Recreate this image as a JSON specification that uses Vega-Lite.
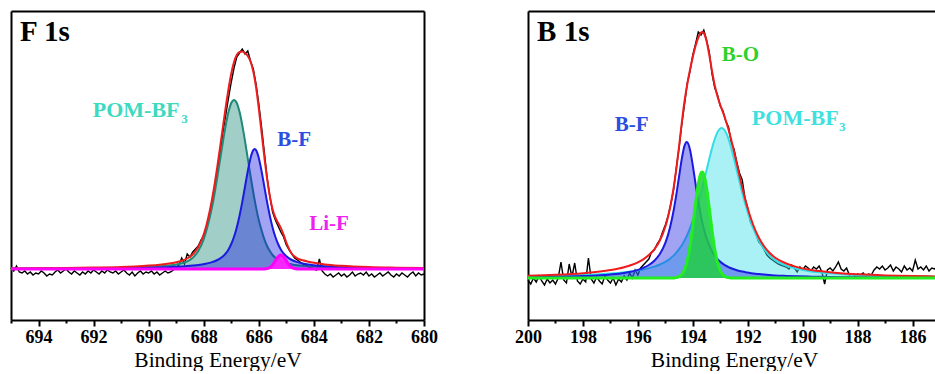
{
"$schema":"https://vega.github.io/schema/vega-lite/v6.json",
"background":"white",
"padding":{"left":5,"top":11,"right":0,"bottom":0},
"bounds":"flush",
"spacing":104,
"config":{"view":{"stroke":null},"axis":{"grid":false,"domainColor":"black","tickColor":"black","labelColor":"black","titleColor":"black","labelFont":"Liberation Serif","titleFont":"Liberation Serif","domainWidth":2,"tickWidth":2}},
"datasets":{
"L":[
{"s":"raw","x":695.0,"y":52},{"s":"raw","x":694.9,"y":49},{"s":"raw","x":694.8,"y":54},{"s":"raw","x":694.7,"y":48},{"s":"raw","x":694.6,"y":47},{"s":"raw","x":694.5,"y":49},{"s":"raw","x":694.4,"y":46},{"s":"raw","x":694.3,"y":48},{"s":"raw","x":694.2,"y":45},{"s":"raw","x":694.1,"y":47},{"s":"raw","x":694.0,"y":46},{"s":"raw","x":693.9,"y":49},{"s":"raw","x":693.8,"y":47},{"s":"raw","x":693.7,"y":44},{"s":"raw","x":693.6,"y":46},{"s":"raw","x":693.5,"y":45},{"s":"raw","x":693.4,"y":48},{"s":"raw","x":693.3,"y":50},{"s":"raw","x":693.2,"y":47},{"s":"raw","x":693.1,"y":49},{"s":"raw","x":693.0,"y":51},{"s":"raw","x":692.9,"y":48},{"s":"raw","x":692.8,"y":46},{"s":"raw","x":692.7,"y":49},{"s":"raw","x":692.6,"y":47},{"s":"raw","x":692.5,"y":45},{"s":"raw","x":692.4,"y":48},{"s":"raw","x":692.3,"y":46},{"s":"raw","x":692.2,"y":49},{"s":"raw","x":692.1,"y":47},{"s":"raw","x":692.0,"y":50},{"s":"raw","x":691.9,"y":48},{"s":"raw","x":691.8,"y":46},{"s":"raw","x":691.7,"y":49},{"s":"raw","x":691.6,"y":47},{"s":"raw","x":691.5,"y":50},{"s":"raw","x":691.4,"y":48},{"s":"raw","x":691.3,"y":47},{"s":"raw","x":691.2,"y":49},{"s":"raw","x":691.1,"y":46},{"s":"raw","x":691.0,"y":48},{"s":"raw","x":690.9,"y":50},{"s":"raw","x":690.8,"y":47},{"s":"raw","x":690.7,"y":45},{"s":"raw","x":690.6,"y":48},{"s":"raw","x":690.5,"y":44},{"s":"raw","x":690.4,"y":47},{"s":"raw","x":690.3,"y":49},{"s":"raw","x":690.2,"y":46},{"s":"raw","x":690.1,"y":48},{"s":"raw","x":690.0,"y":47},{"s":"raw","x":689.9,"y":49},{"s":"raw","x":689.8,"y":46},{"s":"raw","x":689.7,"y":48},{"s":"raw","x":689.6,"y":45},{"s":"raw","x":689.5,"y":47},{"s":"raw","x":689.4,"y":49},{"s":"raw","x":689.3,"y":47},{"s":"raw","x":689.2,"y":48},{"s":"raw","x":689.1,"y":50},{"s":"raw","x":689.0,"y":52},{"s":"raw","x":688.9,"y":55},{"s":"raw","x":688.8,"y":62},{"s":"raw","x":688.7,"y":56},{"s":"raw","x":688.6,"y":66},{"s":"raw","x":688.5,"y":63},{"s":"raw","x":688.4,"y":68},{"s":"raw","x":688.3,"y":71},{"s":"raw","x":688.2,"y":74},{"s":"raw","x":688.1,"y":80},{"s":"raw","x":688.0,"y":84},{"s":"raw","x":687.9,"y":93},{"s":"raw","x":687.8,"y":104},{"s":"raw","x":687.7,"y":118},{"s":"raw","x":687.6,"y":134},{"s":"raw","x":687.5,"y":150},{"s":"raw","x":687.4,"y":168},{"s":"raw","x":687.3,"y":188},{"s":"raw","x":687.2,"y":205},{"s":"raw","x":687.1,"y":222},{"s":"raw","x":687.0,"y":238},{"s":"raw","x":686.9,"y":252},{"s":"raw","x":686.8,"y":263},{"s":"raw","x":686.7,"y":267},{"s":"raw","x":686.6,"y":271},{"s":"raw","x":686.5,"y":266},{"s":"raw","x":686.4,"y":269},{"s":"raw","x":686.3,"y":259},{"s":"raw","x":686.2,"y":251},{"s":"raw","x":686.1,"y":236},{"s":"raw","x":686.0,"y":216},{"s":"raw","x":685.9,"y":193},{"s":"raw","x":685.8,"y":168},{"s":"raw","x":685.7,"y":143},{"s":"raw","x":685.6,"y":124},{"s":"raw","x":685.5,"y":108},{"s":"raw","x":685.4,"y":100},{"s":"raw","x":685.3,"y":94},{"s":"raw","x":685.2,"y":88},{"s":"raw","x":685.1,"y":83},{"s":"raw","x":685.0,"y":75},{"s":"raw","x":684.9,"y":70},{"s":"raw","x":684.8,"y":66},{"s":"raw","x":684.7,"y":62},{"s":"raw","x":684.6,"y":60},{"s":"raw","x":684.5,"y":58},{"s":"raw","x":684.4,"y":56},{"s":"raw","x":684.3,"y":55},{"s":"raw","x":684.2,"y":53},{"s":"raw","x":684.1,"y":52},{"s":"raw","x":684.0,"y":51},{"s":"raw","x":683.9,"y":50},{"s":"raw","x":683.8,"y":61},{"s":"raw","x":683.7,"y":49},{"s":"raw","x":683.6,"y":46},{"s":"raw","x":683.5,"y":44},{"s":"raw","x":683.4,"y":46},{"s":"raw","x":683.3,"y":43},{"s":"raw","x":683.2,"y":45},{"s":"raw","x":683.1,"y":47},{"s":"raw","x":683.0,"y":44},{"s":"raw","x":682.9,"y":46},{"s":"raw","x":682.8,"y":43},{"s":"raw","x":682.7,"y":45},{"s":"raw","x":682.6,"y":48},{"s":"raw","x":682.5,"y":44},{"s":"raw","x":682.4,"y":46},{"s":"raw","x":682.3,"y":47},{"s":"raw","x":682.2,"y":45},{"s":"raw","x":682.1,"y":48},{"s":"raw","x":682.0,"y":44},{"s":"raw","x":681.9,"y":46},{"s":"raw","x":681.8,"y":43},{"s":"raw","x":681.7,"y":45},{"s":"raw","x":681.6,"y":47},{"s":"raw","x":681.5,"y":44},{"s":"raw","x":681.4,"y":46},{"s":"raw","x":681.3,"y":48},{"s":"raw","x":681.2,"y":45},{"s":"raw","x":681.1,"y":43},{"s":"raw","x":681.0,"y":46},{"s":"raw","x":680.9,"y":44},{"s":"raw","x":680.8,"y":47},{"s":"raw","x":680.7,"y":45},{"s":"raw","x":680.6,"y":43},{"s":"raw","x":680.5,"y":46},{"s":"raw","x":680.4,"y":48},{"s":"raw","x":680.3,"y":44},{"s":"raw","x":680.2,"y":47},{"s":"raw","x":680.1,"y":45},{"s":"raw","x":680.0,"y":46},
{"s":"POM","x":695,"y":51.3},{"s":"POM","x":694,"y":51.4},{"s":"POM","x":693,"y":51.6},{"s":"POM","x":692,"y":51.8},{"s":"POM","x":691,"y":52.3},{"s":"POM","x":690.5,"y":52.6},{"s":"POM","x":690,"y":53.2},{"s":"POM","x":689.6,"y":53.8},{"s":"POM","x":689.2,"y":54.8},{"s":"POM","x":689.0,"y":55.6},{"s":"POM","x":688.8,"y":56.7},{"s":"POM","x":688.6,"y":58.6},{"s":"POM","x":688.4,"y":62.2},{"s":"POM","x":688.2,"y":68.9},{"s":"POM","x":688.0,"y":80.9},{"s":"POM","x":687.9,"y":89.7},{"s":"POM","x":687.8,"y":100.4},{"s":"POM","x":687.7,"y":112.6},{"s":"POM","x":687.6,"y":127.5},{"s":"POM","x":687.5,"y":144.0},{"s":"POM","x":687.4,"y":161.4},{"s":"POM","x":687.3,"y":178.8},{"s":"POM","x":687.2,"y":194.9},{"s":"POM","x":687.1,"y":208.2},{"s":"POM","x":687.0,"y":217.0},{"s":"POM","x":686.9,"y":220.1},{"s":"POM","x":686.8,"y":217.0},{"s":"POM","x":686.7,"y":208.2},{"s":"POM","x":686.6,"y":194.9},{"s":"POM","x":686.5,"y":178.8},{"s":"POM","x":686.4,"y":161.4},{"s":"POM","x":686.3,"y":144.0},{"s":"POM","x":686.2,"y":127.5},{"s":"POM","x":686.1,"y":112.6},{"s":"POM","x":686.0,"y":99.8},{"s":"POM","x":685.9,"y":89.7},{"s":"POM","x":685.8,"y":80.9},{"s":"POM","x":685.7,"y":74.0},{"s":"POM","x":685.6,"y":68.9},{"s":"POM","x":685.5,"y":65.0},{"s":"POM","x":685.4,"y":62.2},{"s":"POM","x":685.3,"y":60.1},{"s":"POM","x":685.2,"y":58.6},{"s":"POM","x":685.1,"y":57.5},{"s":"POM","x":685.0,"y":56.7},{"s":"POM","x":684.8,"y":55.6},{"s":"POM","x":684.6,"y":54.8},{"s":"POM","x":684.4,"y":54.3},{"s":"POM","x":684.2,"y":53.8},{"s":"POM","x":684.0,"y":53.5},{"s":"POM","x":683.6,"y":52.9},{"s":"POM","x":683.0,"y":52.4},{"s":"POM","x":682.0,"y":51.9},{"s":"POM","x":681.0,"y":51.6},{"s":"POM","x":680.0,"y":51.5},
{"s":"BF","x":695,"y":51.2},{"s":"BF","x":694,"y":51.3},{"s":"BF","x":693,"y":51.4},{"s":"BF","x":692,"y":51.5},{"s":"BF","x":691,"y":51.8},{"s":"BF","x":690.5,"y":51.9},{"s":"BF","x":690,"y":52.2},{"s":"BF","x":689.6,"y":52.5},{"s":"BF","x":689.2,"y":52.9},{"s":"BF","x":689.0,"y":53.2},{"s":"BF","x":688.8,"y":53.5},{"s":"BF","x":688.6,"y":53.9},{"s":"BF","x":688.4,"y":54.4},{"s":"BF","x":688.2,"y":55.0},{"s":"BF","x":688.0,"y":55.9},{"s":"BF","x":687.9,"y":56.4},{"s":"BF","x":687.8,"y":57.1},{"s":"BF","x":687.7,"y":57.9},{"s":"BF","x":687.6,"y":58.8},{"s":"BF","x":687.5,"y":60.0},{"s":"BF","x":687.4,"y":61.6},{"s":"BF","x":687.3,"y":63.7},{"s":"BF","x":687.2,"y":66.6},{"s":"BF","x":687.1,"y":70.6},{"s":"BF","x":687.0,"y":76.0},{"s":"BF","x":686.9,"y":83.2},{"s":"BF","x":686.8,"y":92.6},{"s":"BF","x":686.7,"y":104.3},{"s":"BF","x":686.6,"y":118.1},{"s":"BF","x":686.5,"y":133.5},{"s":"BF","x":686.4,"y":148.9},{"s":"BF","x":686.3,"y":162.1},{"s":"BF","x":686.2,"y":169.9},{"s":"BF","x":686.15,"y":171.0},{"s":"BF","x":686.1,"y":169.9},{"s":"BF","x":686.0,"y":162.1},{"s":"BF","x":685.9,"y":148.9},{"s":"BF","x":685.8,"y":133.5},{"s":"BF","x":685.7,"y":118.1},{"s":"BF","x":685.6,"y":104.3},{"s":"BF","x":685.5,"y":92.6},{"s":"BF","x":685.4,"y":83.2},{"s":"BF","x":685.3,"y":76.0},{"s":"BF","x":685.2,"y":70.6},{"s":"BF","x":685.1,"y":66.6},{"s":"BF","x":685.0,"y":63.7},{"s":"BF","x":684.8,"y":60.0},{"s":"BF","x":684.6,"y":57.9},{"s":"BF","x":684.4,"y":56.4},{"s":"BF","x":684.2,"y":55.4},{"s":"BF","x":684.0,"y":54.7},{"s":"BF","x":683.6,"y":53.7},{"s":"BF","x":683.0,"y":52.8},{"s":"BF","x":682.0,"y":52.0},{"s":"BF","x":681.0,"y":51.7},{"s":"BF","x":680.0,"y":51.5},
{"s":"LiF","x":695,"y":51},{"s":"LiF","x":685.9,"y":51},{"s":"LiF","x":685.8,"y":51.1},{"s":"LiF","x":685.7,"y":51.5},{"s":"LiF","x":685.6,"y":52.6},{"s":"LiF","x":685.5,"y":55.1},{"s":"LiF","x":685.4,"y":59.1},{"s":"LiF","x":685.3,"y":63.2},{"s":"LiF","x":685.2,"y":65.0},{"s":"LiF","x":685.1,"y":63.2},{"s":"LiF","x":685.0,"y":59.1},{"s":"LiF","x":684.9,"y":55.1},{"s":"LiF","x":684.8,"y":52.6},{"s":"LiF","x":684.7,"y":51.5},{"s":"LiF","x":684.6,"y":51.1},{"s":"LiF","x":684.5,"y":51},{"s":"LiF","x":680,"y":51},
{"s":"fit","x":695,"y":51.6},{"s":"fit","x":694,"y":51.7},{"s":"fit","x":693,"y":52.0},{"s":"fit","x":692,"y":52.4},{"s":"fit","x":691,"y":53.0},{"s":"fit","x":690.5,"y":53.6},{"s":"fit","x":690,"y":54.4},{"s":"fit","x":689.6,"y":55.3},{"s":"fit","x":689.2,"y":56.7},{"s":"fit","x":689.0,"y":57.7},{"s":"fit","x":688.8,"y":59.2},{"s":"fit","x":688.6,"y":61.5},{"s":"fit","x":688.4,"y":65.5},{"s":"fit","x":688.2,"y":72.9},{"s":"fit","x":688.0,"y":85.8},{"s":"fit","x":687.9,"y":95.1},{"s":"fit","x":687.8,"y":106.7},{"s":"fit","x":687.7,"y":120.6},{"s":"fit","x":687.6,"y":136.6},{"s":"fit","x":687.5,"y":154.6},{"s":"fit","x":687.4,"y":173.9},{"s":"fit","x":687.3,"y":193.7},{"s":"fit","x":687.2,"y":213.0},{"s":"fit","x":687.1,"y":231.0},{"s":"fit","x":687.0,"y":246.5},{"s":"fit","x":686.9,"y":258.0},{"s":"fit","x":686.8,"y":265.0},{"s":"fit","x":686.7,"y":268.0},{"s":"fit","x":686.6,"y":268.5},{"s":"fit","x":686.5,"y":267.0},{"s":"fit","x":686.4,"y":264.0},{"s":"fit","x":686.3,"y":258.5},{"s":"fit","x":686.2,"y":248.5},{"s":"fit","x":686.1,"y":233.0},{"s":"fit","x":686.0,"y":211.7},{"s":"fit","x":685.9,"y":187.6},{"s":"fit","x":685.8,"y":163.4},{"s":"fit","x":685.7,"y":141.6},{"s":"fit","x":685.6,"y":123.7},{"s":"fit","x":685.5,"y":110.7},{"s":"fit","x":685.4,"y":102.5},{"s":"fit","x":685.3,"y":97.3},{"s":"fit","x":685.2,"y":92.2},{"s":"fit","x":685.1,"y":85.3},{"s":"fit","x":685.0,"y":77.5},{"s":"fit","x":684.8,"y":66.2},{"s":"fit","x":684.6,"y":61.7},{"s":"fit","x":684.4,"y":59.7},{"s":"fit","x":684.2,"y":58.3},{"s":"fit","x":684.0,"y":57.2},{"s":"fit","x":683.6,"y":55.6},{"s":"fit","x":683.0,"y":54.2},{"s":"fit","x":682.0,"y":52.9},{"s":"fit","x":681.0,"y":52.3},{"s":"fit","x":680.0,"y":51.9}
],
"R":[
{"s":"raw","x":200.0,"y":40},{"s":"raw","x":199.9,"y":36},{"s":"raw","x":199.8,"y":42},{"s":"raw","x":199.7,"y":38},{"s":"raw","x":199.6,"y":44},{"s":"raw","x":199.5,"y":39},{"s":"raw","x":199.4,"y":35},{"s":"raw","x":199.3,"y":41},{"s":"raw","x":199.2,"y":37},{"s":"raw","x":199.1,"y":40},{"s":"raw","x":199.0,"y":36},{"s":"raw","x":198.9,"y":42},{"s":"raw","x":198.8,"y":58},{"s":"raw","x":198.7,"y":40},{"s":"raw","x":198.6,"y":37},{"s":"raw","x":198.5,"y":56},{"s":"raw","x":198.4,"y":43},{"s":"raw","x":198.3,"y":57},{"s":"raw","x":198.2,"y":39},{"s":"raw","x":198.1,"y":36},{"s":"raw","x":198.0,"y":41},{"s":"raw","x":197.9,"y":38},{"s":"raw","x":197.8,"y":62},{"s":"raw","x":197.7,"y":41},{"s":"raw","x":197.6,"y":37},{"s":"raw","x":197.5,"y":43},{"s":"raw","x":197.4,"y":39},{"s":"raw","x":197.3,"y":36},{"s":"raw","x":197.2,"y":44},{"s":"raw","x":197.1,"y":40},{"s":"raw","x":197.0,"y":37},{"s":"raw","x":196.9,"y":42},{"s":"raw","x":196.8,"y":35},{"s":"raw","x":196.7,"y":41},{"s":"raw","x":196.6,"y":38},{"s":"raw","x":196.5,"y":44},{"s":"raw","x":196.4,"y":40},{"s":"raw","x":196.3,"y":47},{"s":"raw","x":196.2,"y":42},{"s":"raw","x":196.1,"y":50},{"s":"raw","x":196.0,"y":45},{"s":"raw","x":195.9,"y":52},{"s":"raw","x":195.8,"y":55},{"s":"raw","x":195.7,"y":58},{"s":"raw","x":195.6,"y":61},{"s":"raw","x":195.5,"y":68},{"s":"raw","x":195.4,"y":70},{"s":"raw","x":195.3,"y":76},{"s":"raw","x":195.2,"y":80},{"s":"raw","x":195.1,"y":88},{"s":"raw","x":195.0,"y":95},{"s":"raw","x":194.9,"y":104},{"s":"raw","x":194.8,"y":116},{"s":"raw","x":194.7,"y":130},{"s":"raw","x":194.6,"y":152},{"s":"raw","x":194.5,"y":172},{"s":"raw","x":194.4,"y":196},{"s":"raw","x":194.3,"y":216},{"s":"raw","x":194.2,"y":237},{"s":"raw","x":194.1,"y":249},{"s":"raw","x":194.0,"y":265},{"s":"raw","x":193.9,"y":276},{"s":"raw","x":193.8,"y":288},{"s":"raw","x":193.7,"y":285},{"s":"raw","x":193.6,"y":290},{"s":"raw","x":193.5,"y":280},{"s":"raw","x":193.4,"y":268},{"s":"raw","x":193.3,"y":246},{"s":"raw","x":193.2,"y":232},{"s":"raw","x":193.1,"y":225},{"s":"raw","x":193.0,"y":214},{"s":"raw","x":192.9,"y":209},{"s":"raw","x":192.8,"y":199},{"s":"raw","x":192.7,"y":193},{"s":"raw","x":192.6,"y":178},{"s":"raw","x":192.5,"y":171},{"s":"raw","x":192.4,"y":158},{"s":"raw","x":192.3,"y":147},{"s":"raw","x":192.2,"y":140},{"s":"raw","x":192.1,"y":122},{"s":"raw","x":192.0,"y":112},{"s":"raw","x":191.9,"y":98},{"s":"raw","x":191.8,"y":92},{"s":"raw","x":191.7,"y":86},{"s":"raw","x":191.6,"y":78},{"s":"raw","x":191.5,"y":75},{"s":"raw","x":191.4,"y":70},{"s":"raw","x":191.3,"y":65},{"s":"raw","x":191.2,"y":62},{"s":"raw","x":191.1,"y":60},{"s":"raw","x":191.0,"y":58},{"s":"raw","x":190.9,"y":56},{"s":"raw","x":190.8,"y":55},{"s":"raw","x":190.7,"y":54},{"s":"raw","x":190.6,"y":53},{"s":"raw","x":190.5,"y":51},{"s":"raw","x":190.4,"y":55},{"s":"raw","x":190.3,"y":52},{"s":"raw","x":190.2,"y":48},{"s":"raw","x":190.1,"y":53},{"s":"raw","x":190.0,"y":50},{"s":"raw","x":189.9,"y":54},{"s":"raw","x":189.8,"y":52},{"s":"raw","x":189.7,"y":49},{"s":"raw","x":189.6,"y":53},{"s":"raw","x":189.5,"y":51},{"s":"raw","x":189.4,"y":54},{"s":"raw","x":189.3,"y":48},{"s":"raw","x":189.2,"y":36},{"s":"raw","x":189.1,"y":50},{"s":"raw","x":189.0,"y":52},{"s":"raw","x":188.9,"y":49},{"s":"raw","x":188.8,"y":53},{"s":"raw","x":188.7,"y":58},{"s":"raw","x":188.6,"y":51},{"s":"raw","x":188.5,"y":49},{"s":"raw","x":188.4,"y":52},{"s":"raw","x":188.3,"y":45},{"s":"raw","x":188.2,"y":46},{"s":"raw","x":188.1,"y":44},{"s":"raw","x":188.0,"y":46},{"s":"raw","x":187.9,"y":45},{"s":"raw","x":187.8,"y":47},{"s":"raw","x":187.7,"y":44},{"s":"raw","x":187.6,"y":46},{"s":"raw","x":187.5,"y":45},{"s":"raw","x":187.4,"y":50},{"s":"raw","x":187.3,"y":53},{"s":"raw","x":187.2,"y":51},{"s":"raw","x":187.1,"y":54},{"s":"raw","x":187.0,"y":50},{"s":"raw","x":186.9,"y":52},{"s":"raw","x":186.8,"y":55},{"s":"raw","x":186.7,"y":49},{"s":"raw","x":186.6,"y":53},{"s":"raw","x":186.5,"y":51},{"s":"raw","x":186.4,"y":48},{"s":"raw","x":186.3,"y":54},{"s":"raw","x":186.2,"y":50},{"s":"raw","x":186.1,"y":52},{"s":"raw","x":186.0,"y":49},{"s":"raw","x":185.9,"y":60},{"s":"raw","x":185.8,"y":51},{"s":"raw","x":185.7,"y":53},{"s":"raw","x":185.6,"y":50},{"s":"raw","x":185.5,"y":54},{"s":"raw","x":185.4,"y":49},{"s":"raw","x":185.3,"y":52},{"s":"raw","x":185.2,"y":51},{"s":"raw","x":185.1,"y":54},{"s":"raw","x":185.0,"y":50},
{"s":"POM","x":200,"y":43.5},{"s":"POM","x":199,"y":44.0},{"s":"POM","x":198,"y":44.9},{"s":"POM","x":197,"y":46.4},{"s":"POM","x":196.5,"y":47.7},{"s":"POM","x":196.0,"y":49.6},{"s":"POM","x":195.8,"y":50.6},{"s":"POM","x":195.6,"y":51.9},{"s":"POM","x":195.4,"y":53.4},{"s":"POM","x":195.2,"y":55.5},{"s":"POM","x":195.0,"y":58.2},{"s":"POM","x":194.9,"y":59.9},{"s":"POM","x":194.8,"y":62.0},{"s":"POM","x":194.7,"y":64.4},{"s":"POM","x":194.6,"y":67.3},{"s":"POM","x":194.5,"y":70.8},{"s":"POM","x":194.4,"y":74.8},{"s":"POM","x":194.3,"y":79.6},{"s":"POM","x":194.2,"y":85.2},{"s":"POM","x":194.1,"y":91.8},{"s":"POM","x":194.0,"y":99.2},{"s":"POM","x":193.9,"y":107.6},{"s":"POM","x":193.8,"y":117.0},{"s":"POM","x":193.7,"y":127.3},{"s":"POM","x":193.6,"y":138.3},{"s":"POM","x":193.5,"y":149.7},{"s":"POM","x":193.4,"y":161.1},{"s":"POM","x":193.3,"y":171.8},{"s":"POM","x":193.2,"y":181.0},{"s":"POM","x":193.1,"y":187.9},{"s":"POM","x":193.0,"y":191.5},{"s":"POM","x":192.95,"y":192.0},{"s":"POM","x":192.9,"y":191.5},{"s":"POM","x":192.8,"y":187.9},{"s":"POM","x":192.7,"y":181.0},{"s":"POM","x":192.6,"y":171.8},{"s":"POM","x":192.5,"y":161.1},{"s":"POM","x":192.4,"y":149.7},{"s":"POM","x":192.2,"y":127.3},{"s":"POM","x":192.0,"y":107.6},{"s":"POM","x":191.8,"y":91.8},{"s":"POM","x":191.6,"y":79.6},{"s":"POM","x":191.4,"y":70.8},{"s":"POM","x":191.2,"y":64.4},{"s":"POM","x":191.0,"y":59.9},{"s":"POM","x":190.6,"y":54.4},{"s":"POM","x":190.2,"y":51.2},{"s":"POM","x":189.8,"y":49.1},{"s":"POM","x":189.4,"y":47.7},{"s":"POM","x":189.0,"y":46.7},{"s":"POM","x":188.5,"y":45.7},{"s":"POM","x":188.0,"y":45.0},{"s":"POM","x":187.0,"y":44.1},{"s":"POM","x":186.0,"y":43.6},{"s":"POM","x":185.0,"y":43.3},
{"s":"BF","x":200,"y":42.8},{"s":"BF","x":199,"y":43.2},{"s":"BF","x":198,"y":43.9},{"s":"BF","x":197,"y":45.5},{"s":"BF","x":196.5,"y":47.1},{"s":"BF","x":196.0,"y":50.1},{"s":"BF","x":195.8,"y":52.2},{"s":"BF","x":195.6,"y":55.0},{"s":"BF","x":195.4,"y":59.3},{"s":"BF","x":195.2,"y":66.0},{"s":"BF","x":195.0,"y":77.2},{"s":"BF","x":194.9,"y":85.4},{"s":"BF","x":194.8,"y":96.0},{"s":"BF","x":194.7,"y":109.3},{"s":"BF","x":194.6,"y":125.4},{"s":"BF","x":194.5,"y":143.5},{"s":"BF","x":194.4,"y":161.3},{"s":"BF","x":194.3,"y":174.4},{"s":"BF","x":194.22,"y":178.0},{"s":"BF","x":194.2,"y":177.8},{"s":"BF","x":194.1,"y":170.1},{"s":"BF","x":194.0,"y":154.5},{"s":"BF","x":193.9,"y":136.1},{"s":"BF","x":193.8,"y":118.6},{"s":"BF","x":193.7,"y":103.6},{"s":"BF","x":193.6,"y":91.4},{"s":"BF","x":193.5,"y":81.9},{"s":"BF","x":193.4,"y":74.5},{"s":"BF","x":193.3,"y":68.8},{"s":"BF","x":193.2,"y":64.4},{"s":"BF","x":193.1,"y":60.9},{"s":"BF","x":193.0,"y":58.3},{"s":"BF","x":192.9,"y":56.1},{"s":"BF","x":192.8,"y":54.3},{"s":"BF","x":192.7,"y":52.9},{"s":"BF","x":192.6,"y":51.7},{"s":"BF","x":192.5,"y":50.7},{"s":"BF","x":192.4,"y":49.8},{"s":"BF","x":192.2,"y":48.4},{"s":"BF","x":192.0,"y":47.4},{"s":"BF","x":191.8,"y":46.5},{"s":"BF","x":191.6,"y":45.9},{"s":"BF","x":191.4,"y":45.4},{"s":"BF","x":191.2,"y":45.0},{"s":"BF","x":191.0,"y":44.6},{"s":"BF","x":190.6,"y":44.1},{"s":"BF","x":190.2,"y":43.7},{"s":"BF","x":189.8,"y":43.4},{"s":"BF","x":189.4,"y":43.2},{"s":"BF","x":189.0,"y":43.0},{"s":"BF","x":188.5,"y":42.8},{"s":"BF","x":188.0,"y":42.7},{"s":"BF","x":187.0,"y":42.5},{"s":"BF","x":186.0,"y":42.4},{"s":"BF","x":185.0,"y":42.3},
{"s":"BO","x":200,"y":42},{"s":"BO","x":195.0,"y":42},{"s":"BO","x":194.8,"y":42.0},{"s":"BO","x":194.7,"y":42.1},{"s":"BO","x":194.6,"y":42.5},{"s":"BO","x":194.5,"y":43.4},{"s":"BO","x":194.4,"y":45.6},{"s":"BO","x":194.3,"y":50.4},{"s":"BO","x":194.2,"y":59.5},{"s":"BO","x":194.1,"y":74.1},{"s":"BO","x":194.0,"y":93.9},{"s":"BO","x":193.9,"y":116.3},{"s":"BO","x":193.8,"y":135.9},{"s":"BO","x":193.7,"y":147.0},{"s":"BO","x":193.66,"y":148.0},{"s":"BO","x":193.6,"y":145.7},{"s":"BO","x":193.5,"y":132.5},{"s":"BO","x":193.4,"y":111.8},{"s":"BO","x":193.3,"y":89.6},{"s":"BO","x":193.2,"y":70.7},{"s":"BO","x":193.1,"y":57.3},{"s":"BO","x":193.0,"y":49.2},{"s":"BO","x":192.9,"y":45.0},{"s":"BO","x":192.8,"y":43.1},{"s":"BO","x":192.7,"y":42.4},{"s":"BO","x":192.6,"y":42.1},{"s":"BO","x":192.5,"y":42.0},{"s":"BO","x":185.0,"y":42},
{"s":"fit","x":200,"y":44.3},{"s":"fit","x":199,"y":45.2},{"s":"fit","x":198,"y":46.8},{"s":"fit","x":197,"y":49.9},{"s":"fit","x":196.5,"y":52.8},{"s":"fit","x":196.0,"y":57.7},{"s":"fit","x":195.8,"y":60.7},{"s":"fit","x":195.6,"y":64.9},{"s":"fit","x":195.4,"y":70.7},{"s":"fit","x":195.2,"y":79.5},{"s":"fit","x":195.0,"y":93.4},{"s":"fit","x":194.9,"y":103.3},{"s":"fit","x":194.8,"y":116.0},{"s":"fit","x":194.7,"y":131.8},{"s":"fit","x":194.6,"y":151.2},{"s":"fit","x":194.5,"y":173.7},{"s":"fit","x":194.4,"y":197.5},{"s":"fit","x":194.3,"y":219.0},{"s":"fit","x":194.2,"y":236.0},{"s":"fit","x":194.1,"y":250.5},{"s":"fit","x":194.0,"y":263.0},{"s":"fit","x":193.9,"y":274.0},{"s":"fit","x":193.8,"y":282.5},{"s":"fit","x":193.7,"y":287.5},{"s":"fit","x":193.66,"y":288.0},{"s":"fit","x":193.6,"y":287.0},{"s":"fit","x":193.5,"y":279.0},{"s":"fit","x":193.4,"y":265.0},{"s":"fit","x":193.3,"y":249.0},{"s":"fit","x":193.2,"y":234.5},{"s":"fit","x":193.1,"y":223.5},{"s":"fit","x":193.0,"y":215.0},{"s":"fit","x":192.9,"y":207.5},{"s":"fit","x":192.8,"y":199.5},{"s":"fit","x":192.7,"y":190.5},{"s":"fit","x":192.6,"y":180.0},{"s":"fit","x":192.5,"y":168.5},{"s":"fit","x":192.4,"y":156.5},{"s":"fit","x":192.2,"y":132.5},{"s":"fit","x":192.0,"y":111.5},{"s":"fit","x":191.8,"y":95.0},{"s":"fit","x":191.6,"y":82.5},{"s":"fit","x":191.4,"y":73.5},{"s":"fit","x":191.2,"y":67.0},{"s":"fit","x":191.0,"y":62.2},{"s":"fit","x":190.6,"y":56.5},{"s":"fit","x":190.2,"y":52.9},{"s":"fit","x":189.8,"y":50.5},{"s":"fit","x":189.4,"y":48.9},{"s":"fit","x":189.0,"y":47.7},{"s":"fit","x":188.5,"y":46.5},{"s":"fit","x":188.0,"y":45.7},{"s":"fit","x":187.0,"y":44.6},{"s":"fit","x":186.0,"y":44.0},{"s":"fit","x":185.0,"y":43.5}
]},
"hconcat":[
{"width":413,"height":309,"data":{"name":"L"},
"resolve":{"axis":{"x":"independent","y":"independent"}},
"layer":[
{"transform":[{"filter":"datum.s == 'raw'"}],"mark":{"type":"line","color":"black","strokeWidth":1.4},
"encoding":{"x":{"field":"x","type":"quantitative","scale":{"domain":[680,695],"reverse":true,"nice":false,"zero":false},"axis":{"orient":"bottom","values":[694,692,690,688,686,684,682,680],"format":"d","tickSize":6,"labelFontSize":18,"labelFontWeight":"bold","labelPadding":2,"labelFlush":false,"labelOverlap":false,"title":"Binding Energy/eV","titleFontSize":21.5,"titleFontWeight":"normal","titlePadding":3}},
"y":{"field":"y","type":"quantitative","scale":{"domain":[0,309],"nice":false,"zero":false},"axis":{"orient":"left","ticks":false,"labels":false,"title":null}}}},
{"transform":[{"filter":"datum.s == 'POM'"}],"mark":{"type":"area","color":"#1f8a78","opacity":0.42,"interpolate":"monotone"},
"encoding":{"x":{"field":"x","type":"quantitative","axis":{"orient":"bottom","values":[695,693,691,689,687,685,683,681],"tickSize":3,"labels":false,"domain":false,"title":null}},
"y":{"field":"y","type":"quantitative","axis":{"orient":"right","ticks":false,"labels":false,"title":null}},"y2":{"datum":51}}},
{"transform":[{"filter":"datum.s == 'POM'"}],"mark":{"type":"line","color":"#1f8a78","strokeWidth":2,"interpolate":"monotone"},
"encoding":{"x":{"field":"x","type":"quantitative","axis":{"orient":"top","ticks":false,"labels":false,"title":null}},"y":{"field":"y","type":"quantitative","axis":null}}},
{"transform":[{"filter":"datum.s == 'BF'"}],"mark":{"type":"area","color":"#1a1ae0","opacity":0.4,"interpolate":"monotone"},
"encoding":{"x":{"field":"x","type":"quantitative","axis":null},"y":{"field":"y","type":"quantitative","axis":null},"y2":{"datum":51}}},
{"transform":[{"filter":"datum.s == 'BF'"}],"mark":{"type":"line","color":"#1a1ae0","strokeWidth":2,"interpolate":"monotone"},
"encoding":{"x":{"field":"x","type":"quantitative","axis":null},"y":{"field":"y","type":"quantitative","axis":null}}},
{"transform":[{"filter":"datum.s == 'LiF'"}],"mark":{"type":"area","color":"#ff22ff","opacity":0.95,"interpolate":"monotone"},
"encoding":{"x":{"field":"x","type":"quantitative","axis":null},"y":{"field":"y","type":"quantitative","axis":null},"y2":{"datum":51}}},
{"transform":[{"filter":"datum.s == 'fit'"}],"mark":{"type":"line","color":"#ee1c1c","strokeWidth":2,"interpolate":"monotone"},
"encoding":{"x":{"field":"x","type":"quantitative","axis":null},"y":{"field":"y","type":"quantitative","axis":null}}},
{"transform":[{"filter":"datum.s == 'LiF'"}],"mark":{"type":"line","color":"#ff00ff","strokeWidth":3,"interpolate":"monotone"},
"encoding":{"x":{"field":"x","type":"quantitative","axis":null},"y":{"field":"y","type":"quantitative","axis":null}}},
{"data":{"values":[{"x":694.67,"y":279,"t":"F 1s"}]},"mark":{"type":"text","align":"left","baseline":"alphabetic","font":"Liberation Serif","fontWeight":"bold","fontSize":29,"color":"black"},
"encoding":{"x":{"field":"x","type":"quantitative","axis":null},"y":{"field":"y","type":"quantitative","axis":null},"text":{"field":"t"}}},
{"data":{"values":[{"x":692.03,"y":203.5,"t":"POM-BF"}]},"mark":{"type":"text","align":"left","baseline":"alphabetic","font":"Liberation Serif","fontWeight":"bold","fontSize":22,"color":"#3fd9c0"},
"encoding":{"x":{"field":"x","type":"quantitative","axis":null},"y":{"field":"y","type":"quantitative","axis":null},"text":{"field":"t"}}},
{"data":{"values":[{"x":688.82,"y":197,"t":"3"}]},"mark":{"type":"text","align":"left","baseline":"alphabetic","font":"Liberation Serif","fontWeight":"bold","fontSize":13,"color":"#3fd9c0"},
"encoding":{"x":{"field":"x","type":"quantitative","axis":null},"y":{"field":"y","type":"quantitative","axis":null},"text":{"field":"t"}}},
{"data":{"values":[{"x":685.33,"y":174,"t":"B-F"}]},"mark":{"type":"text","align":"left","baseline":"alphabetic","font":"Liberation Serif","fontWeight":"bold","fontSize":21,"color":"#2b4ee0"},
"encoding":{"x":{"field":"x","type":"quantitative","axis":null},"y":{"field":"y","type":"quantitative","axis":null},"text":{"field":"t"}}},
{"data":{"values":[{"x":684.17,"y":90,"t":"Li-F"}]},"mark":{"type":"text","align":"left","baseline":"alphabetic","font":"Liberation Serif","fontWeight":"bold","fontSize":21,"color":"#ee22ee"},
"encoding":{"x":{"field":"x","type":"quantitative","axis":null},"y":{"field":"y","type":"quantitative","axis":null},"text":{"field":"t"}}}
]},
{"width":412,"height":309,"data":{"name":"R"},
"resolve":{"axis":{"x":"independent","y":"independent"}},
"layer":[
{"transform":[{"filter":"datum.s == 'raw'"}],"mark":{"type":"line","color":"black","strokeWidth":1.4},
"encoding":{"x":{"field":"x","type":"quantitative","scale":{"domain":[185,200],"reverse":true,"nice":false,"zero":false},"axis":{"orient":"bottom","values":[200,198,196,194,192,190,188,186],"format":"d","tickSize":6,"labelFontSize":18,"labelFontWeight":"bold","labelPadding":2,"labelFlush":false,"labelOverlap":false,"title":"Binding Energy/eV","titleFontSize":21.5,"titleFontWeight":"normal","titlePadding":3}},
"y":{"field":"y","type":"quantitative","scale":{"domain":[0,309],"nice":false,"zero":false},"axis":{"orient":"left","ticks":false,"labels":false,"title":null}}}},
{"transform":[{"filter":"datum.s == 'POM'"}],"mark":{"type":"area","color":"#33dde6","opacity":0.42,"interpolate":"monotone"},
"encoding":{"x":{"field":"x","type":"quantitative","axis":{"orient":"bottom","values":[199,197,195,193,191,189,187],"tickSize":3,"labels":false,"domain":false,"title":null}},
"y":{"field":"y","type":"quantitative","axis":null},"y2":{"datum":42}}},
{"transform":[{"filter":"datum.s == 'POM'"}],"mark":{"type":"line","color":"#33dde6","strokeWidth":2,"interpolate":"monotone"},
"encoding":{"x":{"field":"x","type":"quantitative","axis":{"orient":"top","ticks":false,"labels":false,"title":null}},"y":{"field":"y","type":"quantitative","axis":null}}},
{"transform":[{"filter":"datum.s == 'BF'"}],"mark":{"type":"area","color":"#1a1ae0","opacity":0.4,"interpolate":"monotone"},
"encoding":{"x":{"field":"x","type":"quantitative","axis":null},"y":{"field":"y","type":"quantitative","axis":null},"y2":{"datum":42}}},
{"transform":[{"filter":"datum.s == 'BF'"}],"mark":{"type":"line","color":"#1a1ae0","strokeWidth":2,"interpolate":"monotone"},
"encoding":{"x":{"field":"x","type":"quantitative","axis":null},"y":{"field":"y","type":"quantitative","axis":null}}},
{"transform":[{"filter":"datum.s == 'BO'"}],"mark":{"type":"area","color":"#22cc44","opacity":0.85,"interpolate":"monotone"},
"encoding":{"x":{"field":"x","type":"quantitative","axis":null},"y":{"field":"y","type":"quantitative","axis":null},"y2":{"datum":42}}},
{"transform":[{"filter":"datum.s == 'fit'"}],"mark":{"type":"line","color":"#ee1c1c","strokeWidth":2,"interpolate":"monotone"},
"encoding":{"x":{"field":"x","type":"quantitative","axis":null},"y":{"field":"y","type":"quantitative","axis":null}}},
{"transform":[{"filter":"datum.s == 'BO'"}],"mark":{"type":"line","color":"#22ee22","strokeWidth":3,"interpolate":"monotone"},
"encoding":{"x":{"field":"x","type":"quantitative","axis":null},"y":{"field":"y","type":"quantitative","axis":null}}},
{"data":{"values":[{"x":199.67,"y":279,"t":"B 1s"}]},"mark":{"type":"text","align":"left","baseline":"alphabetic","font":"Liberation Serif","fontWeight":"bold","fontSize":29,"color":"black"},
"encoding":{"x":{"field":"x","type":"quantitative","axis":null},"y":{"field":"y","type":"quantitative","axis":null},"text":{"field":"t"}}},
{"data":{"values":[{"x":192.95,"y":259,"t":"B-O"}]},"mark":{"type":"text","align":"left","baseline":"alphabetic","font":"Liberation Serif","fontWeight":"bold","fontSize":21,"color":"#2ed12e"},
"encoding":{"x":{"field":"x","type":"quantitative","axis":null},"y":{"field":"y","type":"quantitative","axis":null},"text":{"field":"t"}}},
{"data":{"values":[{"x":196.84,"y":189,"t":"B-F"}]},"mark":{"type":"text","align":"left","baseline":"alphabetic","font":"Liberation Serif","fontWeight":"bold","fontSize":21,"color":"#2b4ee0"},
"encoding":{"x":{"field":"x","type":"quantitative","axis":null},"y":{"field":"y","type":"quantitative","axis":null},"text":{"field":"t"}}},
{"data":{"values":[{"x":191.85,"y":195,"t":"POM-BF"}]},"mark":{"type":"text","align":"left","baseline":"alphabetic","font":"Liberation Serif","fontWeight":"bold","fontSize":22,"color":"#3fe0e0"},
"encoding":{"x":{"field":"x","type":"quantitative","axis":null},"y":{"field":"y","type":"quantitative","axis":null},"text":{"field":"t"}}},
{"data":{"values":[{"x":188.68,"y":189,"t":"3"}]},"mark":{"type":"text","align":"left","baseline":"alphabetic","font":"Liberation Serif","fontWeight":"bold","fontSize":13,"color":"#3fe0e0"},
"encoding":{"x":{"field":"x","type":"quantitative","axis":null},"y":{"field":"y","type":"quantitative","axis":null},"text":{"field":"t"}}}
]}
]}
